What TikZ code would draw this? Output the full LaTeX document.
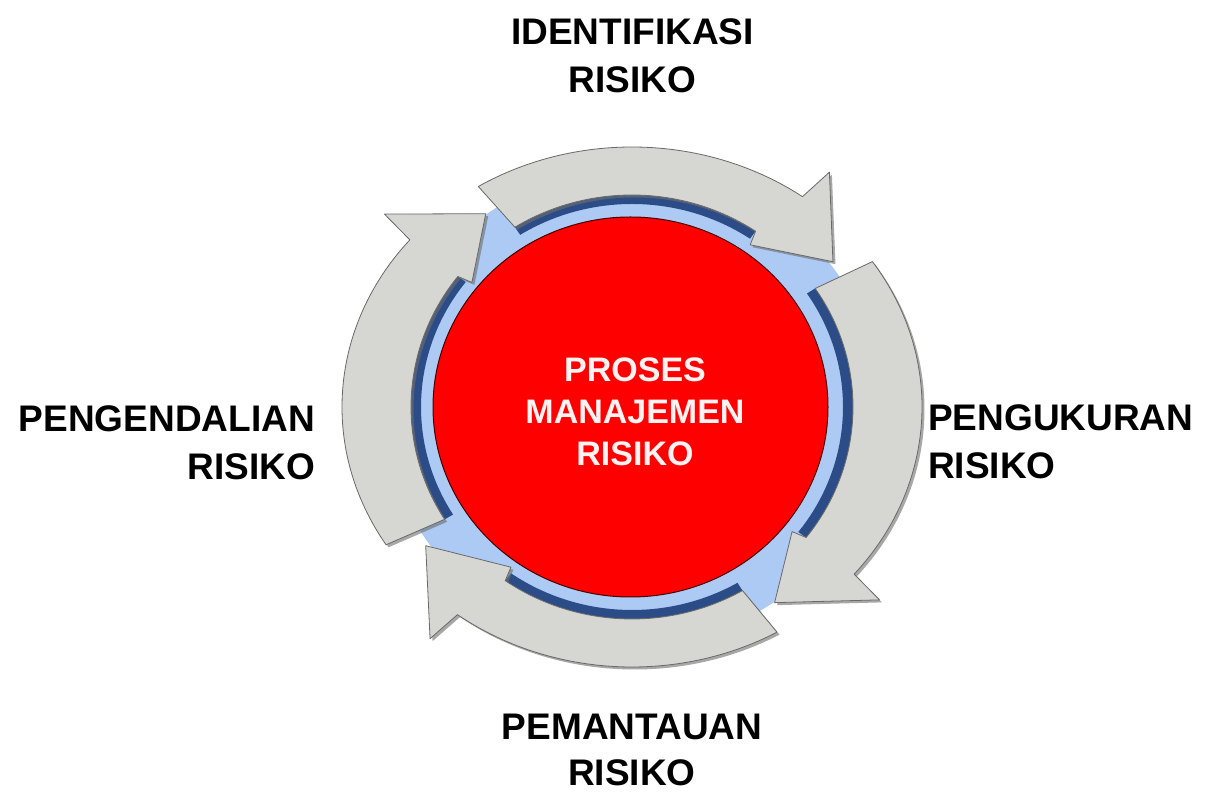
\documentclass[tikz,border=0pt]{standalone}
\usepackage{fontspec}
\setmainfont{Liberation Sans}
\definecolor{glowblue}{RGB}{172,202,244}
\definecolor{glowpale}{RGB}{214,229,250}
\definecolor{bandblue}{RGB}{44,76,136}
\definecolor{redmain}{RGB}{255,0,0}
\definecolor{reddark}{RGB}{185,0,0}
\definecolor{redline}{RGB}{70,0,0}
\definecolor{ctrtext}{RGB}{255,242,242}
\definecolor{arrlight}{RGB}{214,214,210}
\definecolor{arrmid}{RGB}{198,198,194}
\definecolor{arrdark}{RGB}{170,170,166}
\definecolor{arrdeep}{RGB}{140,140,136}
\definecolor{arredge}{RGB}{105,105,103}
\definecolor{arrshadow}{RGB}{110,110,110}
\pgfdeclareradialshading{glowshade}{\pgfpoint{0bp}{0bp}}{color(0bp)=(glowblue); color(43bp)=(glowblue); color(45.5bp)=(glowpale); color(48bp)=(white); color(50bp)=(white)}
\pgfdeclareradialshading{redshade}{\pgfpoint{0bp}{0bp}}{color(0bp)=(redmain); color(44bp)=(redmain); color(50bp)=(reddark)}
\pgfdeclareradialshading{arrowshade}{\pgfpoint{0bp}{0bp}}{color(0bp)=(arrlight); color(32bp)=(arrlight); color(37bp)=(arrmid); color(42bp)=(arrdark); color(50bp)=(arrdeep)}
% arrow: #1 tail angle, #2 head base angle, #3 tip angle
\newcommand\cyclearrowpath[3]{%
  ({#1}:290 and 260) arc[start angle={#1}, end angle={#2}, x radius=290, y radius=260]
  -- ({#2-1}:328 and 294) -- ({#3}:255 and 236) -- ({#2+1}:206 and 198) -- ({#2+2}:221 and 212)
  arc[start angle={#2+2}, end angle={#1}, x radius=221, y radius=212] -- cycle }
\newcommand\cyclebandpath[2]{%
  ({#1}:222 and 213) arc[start angle={#1}, end angle={#2+2}, x radius=222, y radius=213]
  -- ({#2+2}:211 and 203) arc[start angle={#2+2}, end angle={#1}, x radius=211, y radius=203] -- cycle }
\newcommand\allarrows{\cyclearrowpath{122}{54}{38} \cyclearrowpath{34}{-40}{-56} \cyclearrowpath{-60}{-127}{-144} \cyclearrowpath{212}{140}{125}}
\tikzset{
  lbl/.style={font=\fontsize{37}{48}\selectfont\bfseries, align=center, inner sep=0pt, text=black},
  lblb/.style={font=\fontsize{37}{46}\selectfont\bfseries, align=center, inner sep=0pt, text=black},
  ctr/.style={font=\fontsize{34}{42}\selectfont\bfseries, align=center, inner sep=0pt, text=ctrtext}
}
\begin{document}
\begin{tikzpicture}[x=1pt,y=1pt]
\useasboundingbox (0,0) rectangle (1205,792);
\fill[white] (0,0) rectangle (1205,792);
\begin{scope}[shift={(632,385)}]
  \shade[shading=glowshade] (0,0) ellipse [x radius=248, y radius=238];
  \fill[bandblue] \cyclebandpath{122}{54} \cyclebandpath{34}{-40} \cyclebandpath{-60}{-127} \cyclebandpath{212}{140};
  \shadedraw[shading=redshade, draw=redline, line width=1pt] (-1.5,0) ellipse [x radius=197.5, y radius=190];
  \fill[arrshadow, opacity=0.6, shift={(2.5,-2.5)}] \allarrows;
  \begin{scope}
    \clip \allarrows;
    \shade[shading=arrowshade] (-340,-313) rectangle (340,313);
  \end{scope}
  \draw[arredge, line width=0.8pt, line join=round] \allarrows;
\end{scope}
\node[lbl, anchor=north] (ident) at (632.5,774) {IDENTIFIKASI\\RISIKO};
\node[lbl, anchor=north east, align=right] (kendali) at (315,387) {PENGENDALIAN\\RISIKO};
\node[lbl, anchor=north west, align=left] (ukur) at (928,388) {PENGUKURAN\\RISIKO};
\node[lblb, anchor=north] (pantau) at (632,78) {PEMANTAUAN\\RISIKO};
\node[ctr, anchor=north] (proses) at (635,434) {PROSES\\MANAJEMEN\\RISIKO};
\end{tikzpicture}
\end{document}
